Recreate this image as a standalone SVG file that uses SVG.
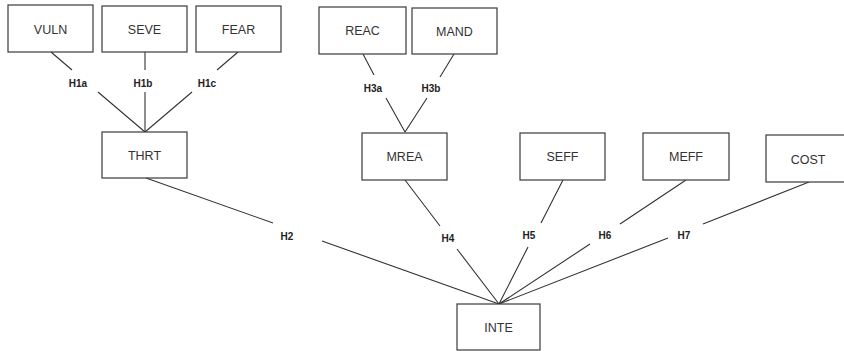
<svg xmlns="http://www.w3.org/2000/svg" width="844" height="351" viewBox="0 0 844 351">
  <style>
    .box { fill: #ffffff; stroke: #3a3a3a; stroke-width: 1.2; }
    .name { font-family: "Liberation Sans", Arial, sans-serif; font-size: 12.5px; fill: #333333; text-anchor: middle; }
    .hyp { font-family: "Liberation Sans", Arial, sans-serif; font-size: 10px; font-weight: bold; fill: #222222; text-anchor: middle; }
    .link { stroke: #333333; stroke-width: 1.1; fill: none; }
  </style>
  <rect width="844" height="351" fill="#ffffff"/>

  <!-- connectors: each path is broken where its hypothesis label sits -->
  <g id="connectors">
    <path class="link" d="M51,52 L72,70 M98,92 L145,132"/>
    <path class="link" d="M145,52 L145,70 M145,92 L145,132"/>
    <path class="link" d="M238,52 L217,70 M192,92 L145,132"/>
    <path class="link" d="M363,54 L374,75 M386,98 L405,132"/>
    <path class="link" d="M454,54 L440,77 M427,98 L405,132"/>
    <path class="link" d="M146,178 L273,223 M322,241 L499,304"/>
    <path class="link" d="M405,180 L440,226 M457,249 L499,304"/>
    <path class="link" d="M563,180 L541,223 M528,247 L499,304"/>
    <path class="link" d="M686,180 L620,224 M590,244 L499,304"/>
    <path class="link" d="M809,182 L703,224 M668,238 L499,304"/>

    <text class="hyp" x="78" y="86.5">H1a</text>
    <text class="hyp" x="143" y="86.5">H1b</text>
    <text class="hyp" x="207" y="86.5">H1c</text>
    <text class="hyp" x="373" y="91.5">H3a</text>
    <text class="hyp" x="431" y="91.5">H3b</text>
    <text class="hyp" x="287" y="239.5">H2</text>
    <text class="hyp" x="448" y="241.5">H4</text>
    <text class="hyp" x="529" y="238.5">H5</text>
    <text class="hyp" x="605" y="238.5">H6</text>
    <text class="hyp" x="684" y="238.5">H7</text>
  </g>

  <g id="VULN"><rect class="box" x="8" y="5" width="85" height="47"/><text class="name" x="50.5" y="33.5">VULN</text></g>
  <g id="SEVE"><rect class="box" x="102" y="6" width="85" height="46"/><text class="name" x="144.5" y="33.5">SEVE</text></g>
  <g id="FEAR"><rect class="box" x="196" y="6" width="85" height="46"/><text class="name" x="238.5" y="33.5">FEAR</text></g>
  <g id="THRT"><rect class="box" x="102" y="132" width="85" height="46"/><text class="name" x="144.5" y="159.5">THRT</text></g>
  <g id="REAC"><rect class="box" x="319" y="7" width="87" height="47"/><text class="name" x="362.5" y="34.5">REAC</text></g>
  <g id="MAND"><rect class="box" x="412" y="8" width="85" height="46"/><text class="name" x="454.5" y="35.5">MAND</text></g>
  <g id="MREA"><rect class="box" x="362" y="133" width="85" height="47"/><text class="name" x="404.5" y="160.5">MREA</text></g>
  <g id="SEFF"><rect class="box" x="520" y="133" width="85" height="47"/><text class="name" x="562.5" y="161">SEFF</text></g>
  <g id="MEFF"><rect class="box" x="643" y="133" width="86" height="47"/><text class="name" x="686" y="161">MEFF</text></g>
  <g id="COST"><rect class="box" x="766" y="135" width="84" height="47"/><text class="name" x="808" y="163.5">COST</text></g>
  <g id="INTE"><rect class="box" x="457" y="304" width="83" height="46"/><text class="name" x="498.5" y="332">INTE</text></g>
</svg>
